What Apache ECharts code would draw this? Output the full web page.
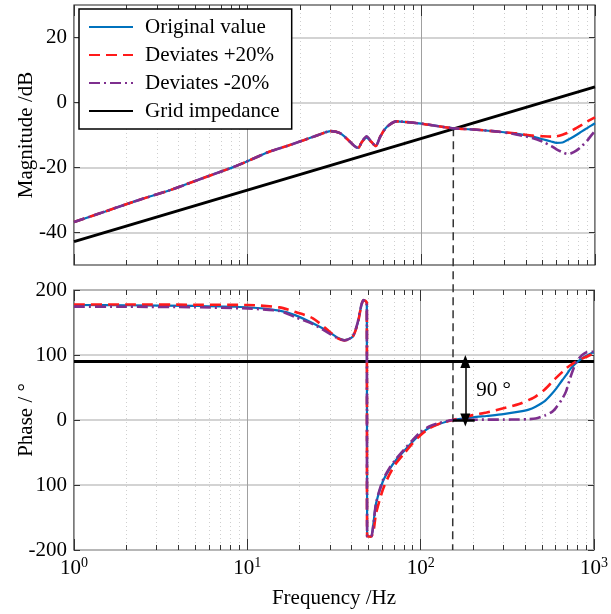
<!DOCTYPE html>
<html>
<head>
<meta charset="utf-8">
<script src="https://cdn.jsdelivr.net/npm/echarts@6/dist/echarts.min.js"></script>
<style>
  html, body { margin: 0; padding: 0; background: #fff; }
  #main { width: 611px; height: 614px; }
</style>
</head>
<body>
<div id="main"></div>
<script>
const seriesNames = ["Original value", "Deviates +20%", "Deviates -20%", "Grid impedance"];
const minorFreqTicks = [2, 3, 4, 5, 6, 7, 8, 9, 20, 30, 40, 50, 60, 70, 80, 90, 200, 300, 400, 500, 600, 700, 800, 900];
const magTicks = [-40, -20, 0, 20];

// magnitude, dB
const freqMag = [1, 1.5, 2.3, 3.6, 5.5, 8.6, 13.4, 17, 21, 25.5, 30, 34, 38, 41, 43.3, 45.5, 48.4, 51.5, 54.6, 58, 63, 72, 85, 100, 150, 200, 280, 350, 440, 500, 560, 600, 650, 690, 730, 780, 840, 900, 950, 1000];
const magOriginal = [-36.8, -33.6, -30.2, -26.9, -23.3, -19.5, -15.1, -13.3, -11.6, -10.0, -8.8, -9.4, -11.6, -13.3, -14.0, -12.1, -10.8, -12.1, -13.4, -10.5, -7.6, -5.8, -6.1, -6.5, -7.9, -8.3, -9.0, -9.6, -10.5, -11.3, -12.0, -12.4, -12.3, -11.6, -10.9, -10.0, -8.9, -7.9, -7.1, -6.4];
const magPlus = [-36.8, -33.6, -30.2, -26.9, -23.3, -19.5, -15.1, -13.3, -11.6, -10.0, -8.8, -9.4, -11.6, -13.3, -14.0, -12.1, -10.8, -12.1, -13.4, -10.5, -7.6, -5.8, -6.1, -6.5, -7.9, -8.3, -9.0, -9.5, -10.2, -10.4, -10.5, -10.4, -9.9, -9.4, -8.7, -7.9, -6.9, -5.9, -5.2, -4.6];
const magMinus = [-36.8, -33.6, -30.2, -26.9, -23.3, -19.5, -15.1, -13.3, -11.6, -10.0, -8.8, -9.4, -11.6, -13.3, -14.0, -12.0, -10.4, -12.0, -13.4, -10.5, -7.6, -5.8, -6.1, -6.5, -7.9, -8.3, -9.0, -9.8, -11.0, -12.1, -13.4, -14.4, -15.3, -15.8, -15.6, -14.8, -13.4, -11.8, -10.2, -8.8];

// grid impedance
const freqGrid = [1, 1000];
const magGrid = [-42.8, 4.8];
const phaseGrid = [90, 90];

// phase, degrees
const freqPhase = [1, 2, 5, 10, 15.3, 19, 23.9, 29.8, 33, 36.3, 40.5, 43.3, 45.3, 46.7, 48, 48.9, 49.1, 51.7, 53.4, 55.3, 60.4, 66, 72.1, 80, 89.8, 100, 112, 125, 153, 200, 240, 300, 370, 420, 460, 520, 575, 600, 657, 690, 733, 783, 820, 855, 900, 977, 1000];
const phaseOriginal = [176.9, 176.5, 175.5, 173.5, 168.2, 161, 148.7, 134.9, 127, 123, 128, 148.7, 174.4, 184, 183, 180, -179, -179.5, -159, -128, -95, -76, -61.5, -48, -33.3, -21.5, -12, -7, 0, 4, 6.2, 9, 12.8, 16, 20.5, 29, 41, 47, 61.5, 69, 79, 87, 91.5, 94.9, 98.5, 103.5, 104];
const phasePlus = [177.7, 177.7, 177.3, 176.9, 173.3, 166, 156.4, 135.9, 126, 122.5, 128, 148, 174, 184, 183.5, 180, -179, -179.5, -172, -143.6, -107.7, -84, -66.7, -52, -36, -23, -13, -7, 0, 7.5, 11.5, 17.9, 24.5, 30.8, 36, 47, 59, 64, 74, 79.5, 84.5, 89.5, 92.3, 94.5, 97, 101.5, 102.5];
const phaseMinus = [174.4, 174.2, 173.5, 171.5, 167.7, 158, 147.5, 133, 126, 122.5, 128.5, 150, 175, 184.5, 183.5, 180, -179, -179.5, -160, -128, -93, -74, -60, -46, -31, -18.5, -10, -5.5, 0, 0.4, 0.6, 0.6, 0.8, 1.3, 2.2, 6.8, 13, 17.9, 33, 44, 66.7, 87, 95, 100, 104, 105, 105];

// annotations
const crossFreq = 153;
const crossMag = -7.9;
const arrowFreq = 181;
const arrowFrom = 90;
const arrowTo = 0;
const arrowBarEnd = 205;
const noteFreq = 209;
const notePhase = 46;
const phaseMin = -200;

const font = "Liberation Serif";

function pairs(xs, ys) {
  return xs.map((x, i) => [x, ys[i]]);
}

// minor decade lines sit on a plain value axis spanning log10(1)..log10(1000)
const minorLogTicks = minorFreqTicks.map((f) => Math.log10(f));

function xAxes(gridIndex, withLabels) {
  const base = { type: "log", logBase: 10, min: 1, max: 1000, gridIndex, axisLine: { show: false, onZero: false } };
  const minorBase = { type: "value", min: 0, max: 3, gridIndex, axisLine: { show: false, onZero: false }, axisLabel: { show: false } };
  const tick = (len, custom) => ({ show: true, inside: true, length: len, customValues: custom, lineStyle: { color: "#333", width: 1 } });
  const major = {
    ...base,
    position: "bottom",
    axisTick: tick(11),
    axisLabel: { show: false },
    splitLine: { show: true, lineStyle: { color: "#a0a0a0", width: 1 } },
  };
  if (withLabels) {
    major.axisLabel = {
      show: true,
      margin: 6,
      fontFamily: font,
      fontSize: 21,
      color: "#000",
      formatter: (v) => "{b|10}{s|" + Math.round(Math.log10(v)) + "}",
      rich: {
        b: { fontFamily: font, fontSize: 21, color: "#000", verticalAlign: "bottom" },
        s: { fontFamily: font, fontSize: 14, color: "#000", verticalAlign: "bottom", padding: [0, 0, 9, 0] },
      },
    };
    major.name = "Frequency /Hz";
    major.nameLocation = "middle";
    major.nameGap = 38;
    major.nameMoveOverlap = false;
    major.nameTextStyle = { fontFamily: font, fontSize: 21, color: "#000" };
  }
  return [
    major,
    { ...minorBase, position: "bottom", axisTick: tick(5, minorLogTicks),
      splitLine: { show: true, lineStyle: { color: "#cfcfcf", width: 1, type: [1, 3] } } },
    { ...base, position: "top", axisTick: tick(11), axisLabel: { show: false }, splitLine: { show: false } },
    { ...minorBase, position: "top", axisTick: tick(5, minorLogTicks), splitLine: { show: false } },
  ];
}

function yAxes(gridIndex, cfg) {
  return [
    {
      type: "value", gridIndex, position: "left", min: cfg.min, max: cfg.max, interval: cfg.interval,
      axisLine: { show: false, onZero: false },
      axisTick: { inside: true, length: 6, customValues: cfg.ticks, lineStyle: { color: "#333" } },
      axisLabel: { customValues: cfg.ticks, margin: 7, fontFamily: font, fontSize: 21, color: "#000", formatter: cfg.formatter },
      splitLine: { show: true, lineStyle: { color: "#c4c4c4", width: 1.5 } },
      name: cfg.name, nameLocation: "middle", nameGap: 37, nameMoveOverlap: false,
      nameTextStyle: { fontFamily: font, fontSize: 21, color: "#000" },
    },
    {
      type: "value", gridIndex, position: "right", min: cfg.min, max: cfg.max, interval: cfg.interval,
      axisLine: { show: false, onZero: false },
      axisTick: { inside: true, length: 6, customValues: cfg.ticks, lineStyle: { color: "#333" } },
      axisLabel: { show: false },
      splitLine: { show: false },
    },
  ];
}

function curve(name, data, xi, yi, color, width, dash) {
  return {
    name, type: "line", data, xAxisIndex: xi, yAxisIndex: yi,
    symbol: "none", smooth: 0.25,
    lineStyle: { color, width, type: dash },
    itemStyle: { color },
    emphasis: { disabled: true },
  };
}

const chart = echarts.init(document.getElementById("main"));

const phaseMarks = {
  silent: true,
  symbol: ["none", "none"],
  label: { show: false },
  lineStyle: { color: "#000", width: 1.5, type: "solid" },
  data: [
    [{ coord: [arrowFreq, arrowFrom], symbol: "triangle", symbolSize: [10, 13], symbolRotate: 0 },
     { coord: [arrowFreq, arrowTo], symbol: "triangle", symbolSize: [10, 13] }],
    [{ coord: [crossFreq, arrowTo], lineStyle: { width: 2.5 } }, { coord: [arrowBarEnd, arrowTo] }],
  ],
};

const option = {
  animation: false,
  backgroundColor: "#fff",
  textStyle: { fontFamily: font },
  grid: [
    { left: 74, right: 16, top: 5, height: 260, show: true, borderColor: "#222", borderWidth: 1.2, backgroundColor: "transparent" },
    { left: 74, right: 16, top: 290, height: 260, show: true, borderColor: "#222", borderWidth: 1.2, backgroundColor: "transparent" },
  ],
  legend: {
    data: seriesNames,
    orient: "vertical",
    left: 79, top: 9,
    padding: [7, 12, 7, 9],
    itemGap: 6, itemWidth: 44, itemHeight: 14,
    itemStyle: { opacity: 0 },
    backgroundColor: "#fff", borderColor: "#000", borderWidth: 1.5, borderRadius: 0,
    selectedMode: false,
    textStyle: { fontFamily: font, fontSize: 21, color: "#000", lineHeight: 22, padding: [0, 0, 0, 7] },
  },
  xAxis: [...xAxes(0, false), ...xAxes(1, true)],
  yAxis: [
    ...yAxes(0, { min: -50, max: 30, interval: 10, ticks: magTicks, name: "Magnitude /dB" }),
    ...yAxes(1, { min: -200, max: 200, interval: 100, name: "Phase / °",
      formatter: (v) => (v === -100 ? "100" : String(v)) }),
  ],
  series: [
    curve("Grid impedance", pairs(freqGrid, magGrid), 0, 0, "#000", 3, "solid"),
    curve("Original value", pairs(freqMag, magOriginal), 0, 0, "#0072BD", 2.2, "solid"),
    curve("Deviates +20%", pairs(freqMag, magPlus), 0, 0, "#FF1A1A", 2.6, [11, 6]),
    curve("Deviates -20%", pairs(freqMag, magMinus), 0, 0, "#7E2F8E", 2.6, [11, 4, 2, 4]),
    Object.assign(curve("Grid impedance", pairs(freqGrid, phaseGrid), 4, 2, "#000", 3, "solid"), { markLine: phaseMarks }),
    curve("Original value", pairs(freqPhase, phaseOriginal), 4, 2, "#0072BD", 2.2, "solid"),
    curve("Deviates +20%", pairs(freqPhase, phasePlus), 4, 2, "#FF1A1A", 2.6, [11, 6]),
    curve("Deviates -20%", pairs(freqPhase, phaseMinus), 4, 2, "#7E2F8E", 2.6, [11, 4, 2, 4]),
  ],
};

chart.setOption(option);

// dashed crossover marker spanning both plots, plus the 90° note
const crossPx = chart.convertToPixel({ seriesIndex: 0 }, [crossFreq, crossMag]);
const floorPx = chart.convertToPixel({ seriesIndex: 4 }, [crossFreq, phaseMin]);
const notePx = chart.convertToPixel({ seriesIndex: 4 }, [noteFreq, notePhase]);
chart.setOption({
  graphic: [
    { type: "line", z: 1, silent: true,
      shape: { x1: crossPx[0], y1: crossPx[1], x2: floorPx[0], y2: floorPx[1] },
      style: { stroke: "#333", lineWidth: 1.5, lineDash: [8, 5] } },
    { type: "text", z: 10, silent: true, x: notePx[0], y: notePx[1],
      style: { text: "90 °", font: '21px "Liberation Serif"', fill: "#000", textVerticalAlign: "middle" } },
  ],
});
</script>
</body>
</html>
